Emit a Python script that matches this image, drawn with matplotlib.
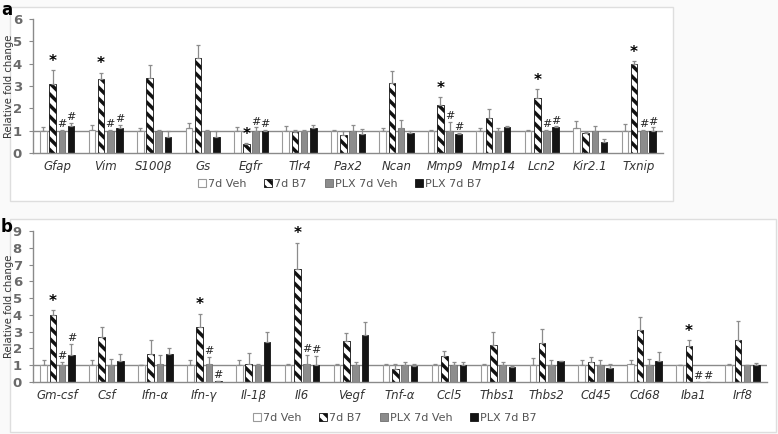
import numpy as np
import matplotlib.pyplot as plt
from matplotlib.patches import Rectangle

# ---- panel a data ----
genes_a = ['Gfap', 'Vim', 'S100β', 'Gs', 'Egfr', 'Tlr4', 'Pax2', 'Ncan',
           'Mmp9', 'Mmp14', 'Lcn2', 'Kir2.1', 'Txnip']
veh_a = [1.0, 1.05, 1.0, 1.1, 1.0, 1.0, 1.0, 1.0, 1.0, 1.0, 1.0, 1.1, 1.0]
veh_a_err = [0.15, 0.2, 0.1, 0.25, 0.15, 0.2, 0.02, 0.1, 0.05, 0.1, 0.05, 0.35, 0.3]
b7_a = [3.1, 3.3, 3.35, 4.25, 0.4, 0.95, 0.82, 3.12, 2.13, 1.57, 2.47, 0.9, 4.0]
b7_a_err = [0.6, 0.3, 0.6, 0.6, 0.05, 0.1, 0.15, 0.55, 0.37, 0.4, 0.4, 0.05, 0.12]
plxveh_a = [1.0, 1.0, 1.0, 1.0, 1.0, 0.95, 1.0, 1.1, 1.0, 1.0, 1.0, 1.0, 1.0]
plxveh_a_err = [0.05, 0.05, 0.05, 0.05, 0.15, 0.1, 0.25, 0.4, 0.4, 0.1, 0.05, 0.22, 0.05]
plxb7_a = [1.2, 1.1, 0.7, 0.7, 1.0, 1.1, 0.87, 0.9, 0.85, 1.15, 1.15, 0.49, 1.0]
plxb7_a_err = [0.15, 0.15, 0.3, 0.3, 0.05, 0.15, 0.2, 0.1, 0.05, 0.05, 0.05, 0.14, 0.15]
star_a = ['Gfap', 'Vim', 'Egfr', 'Mmp9', 'Lcn2', 'Txnip']
hash_a = ['Gfap', 'Vim', 'Egfr', 'Mmp9', 'Lcn2', 'Txnip']

# ---- panel b data ----
genes_b = ['Gm-csf', 'Csf', 'Ifn-α', 'Ifn-γ', 'Il-1β', 'Il6', 'Vegf', 'Tnf-α',
           'Ccl5', 'Thbs1', 'Thbs2', 'Cd45', 'Cd68', 'Iba1', 'Irf8']
veh_b = [1.0, 1.0, 1.0, 1.0, 1.0, 1.0, 1.0, 1.0, 1.0, 1.0, 1.0, 1.0, 1.05, 1.0, 1.0]
veh_b_err = [0.33, 0.3, 0.02, 0.3, 0.3, 0.1, 0.05, 0.05, 0.1, 0.05, 0.45, 0.3, 0.25, 0.02, 0.05]
b7_b = [3.97, 2.68, 1.69, 3.28, 1.1, 6.76, 2.45, 0.8, 1.57, 2.22, 2.35, 1.22, 3.08, 2.12, 2.53]
b7_b_err = [0.3, 0.62, 0.83, 0.79, 0.65, 1.53, 0.45, 0.3, 0.29, 0.78, 0.83, 0.25, 0.78, 0.37, 1.1]
plxveh_b = [1.0, 1.0, 1.1, 1.1, 1.0, 1.1, 1.0, 1.0, 1.0, 1.0, 1.0, 1.0, 1.0, 0.0, 1.0]
plxveh_b_err = [0.2, 0.35, 0.5, 0.4, 0.1, 0.5, 0.2, 0.2, 0.2, 0.2, 0.3, 0.3, 0.35, 0.0, 0.02]
plxb7_b = [1.63, 1.23, 1.69, 0.05, 2.39, 1.0, 2.78, 0.95, 1.0, 0.9, 1.25, 0.82, 1.27, 0.0, 1.0]
plxb7_b_err = [0.62, 0.46, 0.34, 0.0, 0.61, 0.57, 0.79, 0.1, 0.2, 0.05, 0.02, 0.28, 0.49, 0.0, 0.15]
star_b = ['Gm-csf', 'Ifn-γ', 'Il6', 'Iba1']
hash_b = ['Gm-csf', 'Ifn-γ', 'Il6', 'Iba1']

groups = ['7d Veh', '7d B7', 'PLX 7d Veh', 'PLX 7d B7']

plt.rcParams['hatch.linewidth'] = 2.5
plt.rcParams['font.family'] = ['DejaVu Sans']

fig = plt.figure(figsize=(7.78, 4.34), dpi=100, facecolor='#fafafa')
W, H = 778, 434


def fig_box(x0, y0, x1, y1):
    fig.patches.append(Rectangle((x0 / W, 1 - y1 / H), (x1 - x0) / W, (y1 - y0) / H,
                                 transform=fig.transFigure, facecolor='white',
                                 edgecolor='#dedede', lw=1.0, zorder=-5))


fig_box(10, 7, 673, 201)
fig_box(10, 219, 776, 432)

styles = [
    dict(color='white', edgecolor='#9a9a9a', lw=0.8),
    dict(color='white', edgecolor='#111111', hatch='\\\\\\', lw=0.6),
    dict(color='#8c8c8c', edgecolor='#6e6e6e', lw=0.6),
    dict(color='#141414', edgecolor='#141414', lw=0.6),
]


def draw_panel(ax, genes, series, errs, stars, hashes, ymax, width_px):
    x = np.arange(len(genes))
    step, width = 0.19, 0.135
    ax.axhline(1, color='#8a8a8a', lw=1.0, zorder=1)
    handles = []
    for j, (vals, err) in enumerate(zip(series, errs)):
        pos = x + (j - 1.5) * step
        b = ax.bar(pos, vals, width, zorder=2, **styles[j])
        handles.append(b)
        ax.errorbar(pos, vals, yerr=[np.zeros(len(vals)), err], fmt='none',
                    ecolor='#8c8c8c', elinewidth=0.9, capsize=1.6, capthick=0.9, zorder=3)
        for i, g in enumerate(genes):
            top = vals[i] + err[i]
            if j == 1 and g in stars:
                ax.text(pos[i], top + 0.01 * ymax, '*', ha='center', va='bottom',
                        fontsize=11, fontweight='bold', color='black')
            if j >= 2 and g in hashes:
                ax.text(pos[i], top + 0.005 * ymax, '#', ha='center', va='bottom',
                        fontsize=8, color='#222222')
    ax.set_xlim(-0.5, len(genes) - 0.5)
    ax.set_ylim(0, ymax)
    ax.set_yticks(range(0, ymax + 1))
    ax.set_xticks(x)
    ax.set_xticklabels(genes, style='italic', fontsize=8.5, color='#333333')
    ax.tick_params(axis='x', length=0, pad=5)
    ax.tick_params(axis='y', length=3, color='#8a8a8a', labelsize=9.5,
                   labelcolor='#6a6a6a', pad=5)
    for lab in ax.get_yticklabels():
        lab.set_fontweight('bold')
    for s in ['top', 'right']:
        ax.spines[s].set_visible(False)
    for s in ['left', 'bottom']:
        ax.spines[s].set_color('#8a8a8a')
        ax.spines[s].set_linewidth(1.0)
    ax.set_ylabel('Relative fold change', fontsize=7.3, color='#333333')
    ax.yaxis.set_label_coords(-19 / width_px, 0.5)
    ax.patch.set_alpha(0)
    return handles


ax_a = fig.add_axes([33 / W, 1 - 153 / H, 630 / W, 134 / H])
h = draw_panel(ax_a, genes_a, [veh_a, b7_a, plxveh_a, plxb7_a],
               [veh_a_err, b7_a_err, plxveh_a_err, plxb7_a_err], star_a, hash_a, 6, 630)

ax_b = fig.add_axes([33 / W, 1 - 382 / H, 734 / W, 151 / H])
draw_panel(ax_b, genes_b, [veh_b, b7_b, plxveh_b, plxb7_b],
           [veh_b_err, b7_b_err, plxveh_b_err, plxb7_b_err], star_b, hash_b, 9, 734)

leg_kw = dict(loc='center', ncol=4, frameon=False, fontsize=8, handlelength=0.7,
              handleheight=0.7, handletextpad=0.2, columnspacing=1.6, labelcolor='#555555')
fig.legend(h, groups, bbox_to_anchor=(340 / W, 1 - 184 / H), **leg_kw)
fig.legend(h, groups, bbox_to_anchor=(395 / W, 1 - 418 / H), **leg_kw)

fig.text(1 / W, 1 - 1 / H, 'a', fontsize=12, fontweight='bold', va='top', ha='left')
fig.text(1 / W, 1 - 218 / H, 'b', fontsize=12, fontweight='bold', va='top', ha='left')

fig.savefig('out.png', dpi=100, facecolor=fig.get_facecolor())
